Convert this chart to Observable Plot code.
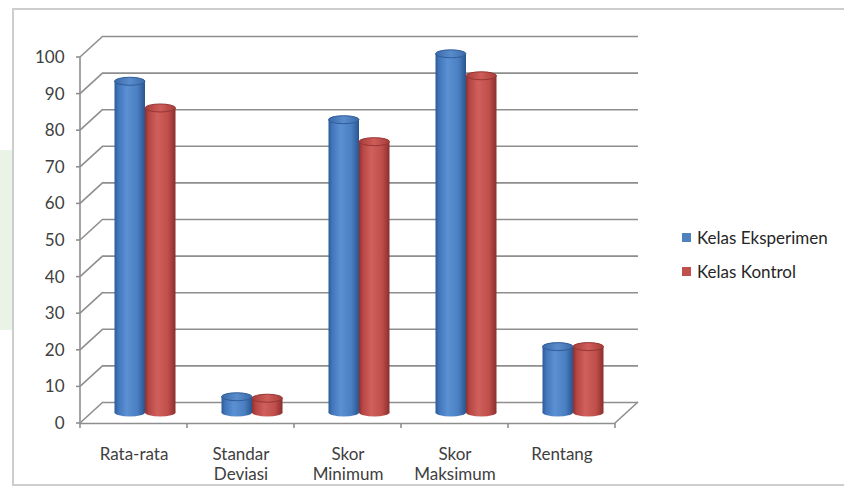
<!DOCTYPE html>
<html>
<head>
<meta charset="utf-8">
<script src="https://cdn.jsdelivr.net/npm/d3@7"></script>
<script src="https://cdn.jsdelivr.net/npm/@observablehq/plot@0.6"></script>
<style>
  body { margin: 0; background: #fff; }
  #wrap { position: relative; width: 844px; height: 495px; overflow: hidden; font-family: Lato, "Noto Sans", sans-serif; background: #fff; }
  #mark { position: absolute; left: 0; top: 150px; width: 12px; height: 180px; background: #eaf4e6; }
  #border { position: absolute; left: 12px; top: 8px; width: 840px; height: 478px; border: 2px solid #cdcdcd; box-sizing: border-box; }
  #chart { position: absolute; left: 0; top: 0; }
  #legend { position: absolute; left: 682px; top: 220px; font-size: 17px; color: #262626; }
  .item { display: flex; align-items: center; height: 34px; }
  .sw { width: 9px; height: 9px; margin-right: 6px; }
</style>
</head>
<body>
<div id="wrap">
  <div id="mark"></div>
  <div id="border"></div>
  <div id="chart"></div>
  <div id="legend"></div>
</div>
<script>
// ---- data ----
const categories = ["Rata-rata", "Standar\nDeviasi", "Skor\nMinimum", "Skor\nMaksimum", "Rentang"];
const seriesNames = ["Kelas Eksperimen", "Kelas Kontrol"];
const eksperimen = [90.5, 4.3, 80, 98, 18];
const kontrol = [83.2, 3.9, 74, 92, 18];
const yTicks = [0, 10, 20, 30, 40, 50, 60, 70, 80, 90, 100];
const seriesColors = ["#4f81bd", "#c0504d"];

const data = categories.flatMap((c, i) => [
  {cat: c, series: 0, value: eksperimen[i]},
  {cat: c, series: 1, value: kontrol[i]}
]);

// ---- 3D style ----
const DX = 23, DY = -21;          // depth of back wall
const MDX = DX / 2, MDY = DY / 2; // bars sit at mid depth
const BAR_W = 30.5, RY = 4;
const GRID = "#8e8e8e";

function bandInfo(x) {
  return x.bandwidth ? x.bandwidth() : (x(categories[1]) - x(categories[0]));
}

function defsMark() {
  const g = d3.create("svg:defs");
  const mk = (id, stops) => {
    const lg = g.append("linearGradient").attr("id", id)
      .attr("x1", 0).attr("y1", 0).attr("x2", 1).attr("y2", 0);
    stops.forEach(([o, c]) => lg.append("stop").attr("offset", o).attr("stop-color", c));
  };
  mk("gBlue", [[0, "#2c5a96"], [0.12, "#4276bb"], [0.4, "#5b90d3"], [0.75, "#4a7fc2"], [1, "#2a558f"]]);
  mk("gRed", [[0, "#8f302e"], [0.12, "#b64643"], [0.4, "#d0605c"], [0.75, "#c04f4c"], [1, "#8a2e2c"]]);
  mk("gBlueTop", [[0, "#3a69a8"], [0.5, "#5a8ccc"], [1, "#3a69a8"]]);
  mk("gRedTop", [[0, "#a53d3a"], [0.5, "#cf5d59"], [1, "#a53d3a"]]);
  return g.node();
}

function structure(index, scales, values, dims) {
  const x = scales.x, y = scales.y;
  const bw = bandInfo(x);
  const ml = dims.marginLeft, mr = dims.width - dims.marginRight;
  const g = d3.create("svg:g").attr("stroke", GRID).attr("stroke-width", 1.6).attr("fill", "none");
  g.append("line").attr("x1", ml).attr("x2", ml).attr("y1", y(0)).attr("y2", y(100));
  yTicks.forEach(t => {
    g.append("line").attr("x1", ml).attr("y1", y(t)).attr("x2", ml + DX).attr("y2", y(t) + DY);
    g.append("line").attr("x1", ml - 4).attr("y1", y(t)).attr("x2", ml).attr("y2", y(t));
  });
  g.append("line").attr("x1", mr).attr("y1", y(0)).attr("x2", mr + DX).attr("y2", y(0) + DY);
  for (let i = 0; i <= categories.length; i++) {
    const xx = ml + i * bw;
    g.append("line").attr("x1", xx).attr("x2", xx).attr("y1", y(0)).attr("y2", y(0) + 5);
  }
  return g.node();
}

function caps(which) {
  return (index, scales, values, dims) => {
    const x = scales.x, y = scales.y;
    const bw = bandInfo(x);
    const g = d3.create("svg:g");
    data.forEach(d => {
      const cx = x(d.cat) + bw / 2 + MDX + (d.series === 0 ? -BAR_W / 2 : BAR_W / 2);
      const cy = (which === "top" ? y(d.value) : y(0)) + MDY;
      const fill = which === "top"
        ? (d.series === 0 ? "url(#gBlueTop)" : "url(#gRedTop)")
        : (d.series === 0 ? "url(#gBlue)" : "url(#gRed)");
      g.append("ellipse").attr("cx", cx).attr("cy", cy).attr("rx", BAR_W / 2).attr("ry", RY)
        .attr("fill", fill)
        .attr("stroke", which === "top" ? (d.series === 0 ? "#2f5d99" : "#973533") : "none")
        .attr("stroke-width", 1);
    });
    return g.node();
  };
}

const half = 107 / 2;
const chart = Plot.plot({
  width: 844,
  height: 495,
  marginLeft: 80,
  marginRight: 229,
  marginTop: 57,
  marginBottom: 72,
  style: {fontFamily: "Lato, 'Noto Sans', sans-serif", background: "transparent"},
  x: {type: "band", domain: categories, padding: 0, label: null},
  y: {domain: [0, 100], label: null},
  marks: [
    defsMark,
    Plot.ruleY(yTicks, {dx: DX, dy: DY, stroke: GRID, strokeWidth: 1.6}),
    Plot.ruleY([0], {stroke: GRID, strokeWidth: 1.6}),
    structure,
    caps("bottom"),
    Plot.barY(data.filter(d => d.series === 0), {
      x: "cat", y: "value", fill: "url(#gBlue)",
      insetLeft: half - BAR_W, insetRight: half, dx: MDX, dy: MDY
    }),
    Plot.barY(data.filter(d => d.series === 1), {
      x: "cat", y: "value", fill: "url(#gRed)",
      insetLeft: half, insetRight: half - BAR_W, dx: MDX, dy: MDY
    }),
    caps("top"),
    Plot.axisY({ticks: yTicks, tickSize: 0, tickPadding: 16, fontSize: 17, color: "#404040", label: null}),
    Plot.axisX({tickSize: 0, tickPadding: 22, fontSize: 17, lineHeight: 1.18, color: "#404040", label: null})
  ]
});
document.getElementById("chart").appendChild(chart);

// legend
const legend = document.getElementById("legend");
seriesNames.forEach((name, i) => {
  const row = document.createElement("div");
  row.className = "item";
  const sw = document.createElement("span");
  sw.className = "sw";
  sw.style.background = seriesColors[i];
  const tx = document.createElement("span");
  tx.textContent = name;
  row.appendChild(sw); row.appendChild(tx);
  legend.appendChild(row);
});
</script>
</body>
</html>
